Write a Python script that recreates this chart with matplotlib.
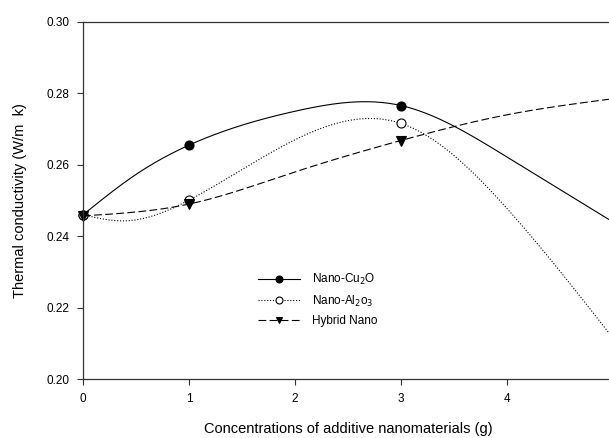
import numpy as np
import matplotlib
matplotlib.use("Agg")
import matplotlib.pyplot as plt

plt.rcParams["font.family"] = ["Liberation Sans", "DejaVu Sans"]

# measured points (markers)
conc = [0, 1, 3]
cu2o = [0.2460, 0.2655, 0.2766]
al2o3 = [0.2460, 0.2501, 0.2716]
hybrid = [0.2457, 0.2490, 0.2668]

# curve points
cu2o_cx = [0, 0.5, 1, 2, 3, 4, 5]
cu2o_cy = [0.2460, 0.2573, 0.2655, 0.2750, 0.2766, 0.2622, 0.2440]
al2o3_cx = [0, 0.4, 1, 2, 3, 4, 5]
al2o3_cy = [0.2460, 0.2443, 0.2501, 0.2670, 0.2716, 0.2478, 0.2115]
hybrid_cx = [0, 1, 2, 3, 4, 5]
hybrid_cy = [0.2457, 0.2490, 0.2580, 0.2668, 0.2740, 0.2785]

labels = ["Nano-Cu$_2$O", "Nano-Al$_2$o$_3$", "Hybrid Nano"]
x_ticks = [0, 1, 2, 3, 4, 5]
y_ticks = [0.20, 0.22, 0.24, 0.26, 0.28, 0.30]


def natural_spline(x, y, xs):
    # plain natural cubic spline, no scipy needed
    x = np.asarray(x, float)
    y = np.asarray(y, float)
    n = len(x)
    h = np.diff(x)
    a = np.zeros((n, n))
    b = np.zeros(n)
    a[0, 0] = a[-1, -1] = 1.0
    for i in range(1, n - 1):
        a[i, i - 1] = h[i - 1]
        a[i, i] = 2 * (h[i - 1] + h[i])
        a[i, i + 1] = h[i]
        b[i] = 6 * ((y[i + 1] - y[i]) / h[i] - (y[i] - y[i - 1]) / h[i - 1])
    m = np.linalg.solve(a, b)
    idx = np.clip(np.searchsorted(x, xs) - 1, 0, n - 2)
    x0, x1, hi = x[idx], x[idx + 1], h[idx]
    t0, t1 = x1 - xs, xs - x0
    return (m[idx] * t0**3 / (6 * hi) + m[idx + 1] * t1**3 / (6 * hi)
            + (y[idx] / hi - m[idx] * hi / 6) * t0
            + (y[idx + 1] / hi - m[idx + 1] * hi / 6) * t1)


def main() -> int:
    fig = plt.figure(figsize=(6.09, 4.38), dpi=100)
    ax = fig.add_axes([0.1363, 0.1347, 0.870, 0.8151])

    xs = np.linspace(0, 5, 400)
    styles = [
        dict(ls="-", marker="o", mfc="black"),
        dict(ls=(0, (1, 1.6)), marker="o", mfc="white"),
        dict(ls=(0, (7, 3)), marker="v", mfc="black"),
    ]
    series = [
        (cu2o, cu2o_cx, cu2o_cy),
        (al2o3, al2o3_cx, al2o3_cy),
        (hybrid, hybrid_cx, hybrid_cy),
    ]
    for (pts, cx, cy), label, st in zip(series, labels, styles):
        ax.plot(xs, natural_spline(cx, cy, xs), color="black", lw=0.8, ls=st["ls"], clip_on=False)
        ax.plot(conc, pts, ls="none", marker=st["marker"], ms=6.5,
                mfc=st["mfc"], mec="black", mew=0.8, clip_on=False)
        ax.plot([], [], color="black", lw=0.8, ls=st["ls"], marker=st["marker"],
                ms=5, mfc=st["mfc"], mec="black", mew=0.8, label=label)

    ax.set_xlim(0, 5)
    ax.set_ylim(0.20, 0.30)
    ax.set_xticks(x_ticks)
    ax.set_yticks(y_ticks)
    ax.set_yticklabels([f"{v:.2f}" for v in y_ticks])
    ax.tick_params(direction="out", length=4, width=0.8, labelsize=8.5, color="#333333", pad=6)
    for side in ("left", "bottom", "top", "right"):
        ax.spines[side].set_linewidth(0.9)
        ax.spines[side].set_color("#333333")
    ax.set_xlabel("Concentrations of additive nanomaterials (g)", fontsize=10.5, labelpad=12)
    ax.set_ylabel("Thermal conductivity (W/m  k)", fontsize=10.5, labelpad=14)

    ax.legend(loc="upper left", bbox_to_anchor=(0.31, 0.33), frameon=False,
              fontsize=8.5, handlelength=3.6, labelspacing=0.55, handletextpad=1.0)

    fig.savefig("out.png", dpi=100)
    plt.close(fig)
    return 0


if __name__ == "__main__":
    raise SystemExit(main())
